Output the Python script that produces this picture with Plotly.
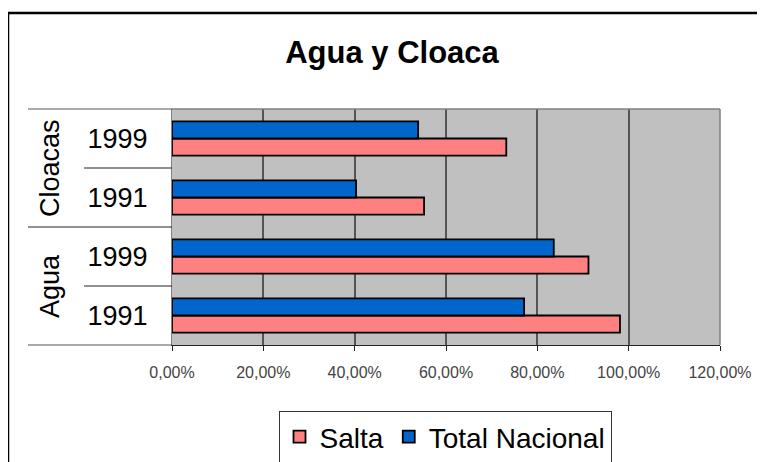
import plotly.graph_objects as go

categories = ["Agua 1991", "Agua 1999", "Cloacas 1991", "Cloacas 1999"]
year_labels = ["1991", "1999", "1991", "1999"]
groups = ["Agua", "Cloacas"]
salta = [0.981, 0.912, 0.552, 0.732]
total_nacional = [0.771, 0.836, 0.403, 0.539]
x_ticks = [0, 0.2, 0.4, 0.6, 0.8, 1.0, 1.2]

OFF = 8  # default page body margin
W, H = 765 - OFF, 462 - OFF
L, T = 172 - OFF, 109 - OFF
R = W - (720 - OFF)
B = H - (345 - OFF)
pw = W - L - R
ph = H - T - B

def px_x(p):
    return (p - OFF - L) / pw

def px_y(p):
    return (H - B - (p - OFF)) / ph

FONT = "Liberation Sans, Arial, sans-serif"

fig = go.Figure()
fig.add_trace(go.Bar(
    y=categories, x=salta, orientation="h", name="Salta",
    marker=dict(color="#FF8080", line=dict(color="black", width=1.8)),
))
fig.add_trace(go.Bar(
    y=categories, x=total_nacional, orientation="h", name="Total Nacional",
    marker=dict(color="#0066CC", line=dict(color="black", width=1.8)),
))

shapes = []
# figure border (left and top)
shapes.append(dict(type="line", xref="paper", yref="paper",
                   x0=px_x(8), x1=px_x(8), y0=px_y(12), y1=px_y(480),
                   line=dict(color="black", width=2.5)))
shapes.append(dict(type="line", xref="paper", yref="paper",
                   x0=px_x(7), x1=px_x(790), y0=px_y(13), y1=px_y(13),
                   line=dict(color="black", width=2.5)))
# category dividers
for yd, xs in [(0, 28), (0.25, 84), (0.5, 28), (0.75, 84), (1.0, 28)]:
    shapes.append(dict(type="line", xref="paper", yref="paper",
                       x0=px_x(xs), x1=0, y0=yd, y1=yd,
                       line=dict(color="#222222" if yd not in (0, 1.0) else "#555555", width=1.2)))

annotations = []
for i, g in enumerate(groups):
    annotations.append(dict(text=g, xref="paper", yref="paper",
                            x=px_x(50), y=0.25 + 0.5 * i, textangle=-90,
                            xanchor="center", yanchor="middle",
                            showarrow=False, font=dict(size=27, color="black", family=FONT)))

fig.update_layout(
    width=W, height=H,
    margin=dict(l=L, r=R, t=T, b=B, pad=0, autoexpand=False),
    paper_bgcolor="white", plot_bgcolor="#C0C0C0",
    barmode="group", bargap=0.42, bargroupgap=0,
    separators=",.",
    title=dict(text="<b>Agua y Cloaca</b>", x=(392 - OFF) / W, xanchor="center",
               y=1 - (52 - OFF) / H, yanchor="middle",
               font=dict(size=31, color="black", family=FONT)),
    xaxis=dict(range=[0, 1.2], tickvals=x_ticks, tickformat=".2%",
               showgrid=True, gridcolor="#555555", gridwidth=1.6,
               showline=True, linecolor="#222222", linewidth=1.2,
               ticks="outside", ticklen=5, tickcolor="#222222",
               tickfont=dict(size=16, color="#444444", family=FONT),
               ticklabelstandoff=8, zeroline=False, fixedrange=True),
    yaxis=dict(categoryorder="array", categoryarray=categories,
               tickvals=categories, ticktext=year_labels,
               tickfont=dict(size=27, color="black", family=FONT),
               ticklabelstandoff=18, showline=True, linecolor="#808080",
               linewidth=1.2, mirror=False, fixedrange=True),
    legend=dict(orientation="h", x=px_x(445), xanchor="center",
                y=px_y(411), yanchor="top",
                bordercolor="#333333", borderwidth=1,
                font=dict(size=28, color="black", family=FONT),
                traceorder="normal", itemwidth=30),
    shapes=shapes, annotations=annotations,
    showlegend=True,
)
# plot frame top/right in gray
fig.add_shape(type="line", xref="x domain", yref="y domain", x0=0, x1=1, y0=1, y1=1,
              line=dict(color="#808080", width=1.5))
fig.add_shape(type="line", xref="x domain", yref="y domain", x0=1, x1=1, y0=0, y1=1,
              line=dict(color="#808080", width=1.5))

fig.write_html("out.html")
